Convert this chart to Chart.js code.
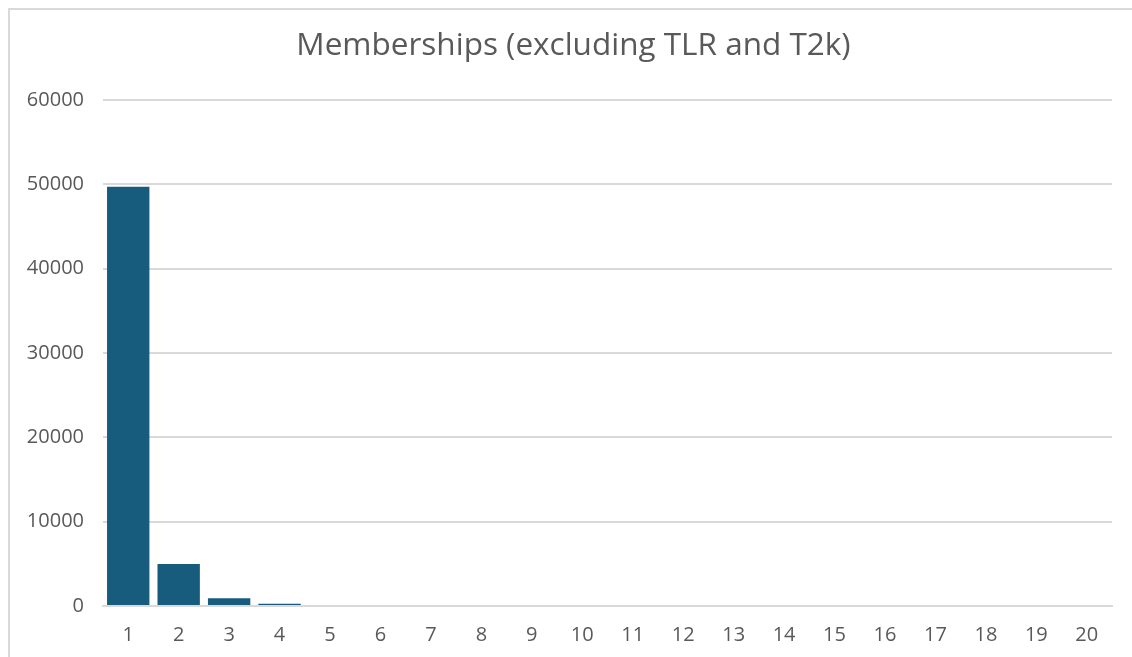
<!DOCTYPE html>
<html lang="en">
<head>
  <meta charset="UTF-8">
  <title>Memberships</title>
  <style>
    html, body {
      margin: 0;
      padding: 0;
      background: #ffffff;
      overflow: hidden;
    }
    .wrap {
      position: relative;
      width: 1132px;
      height: 657px;
    }
    .frame {
      position: absolute;
      left: 8px;
      top: 8px;
      width: 1200px;
      height: 700px;
      border-left: 2px solid #d9d9d9;
      border-top: 2px solid #d9d9d9;
      pointer-events: none;
    }
    canvas {
      position: absolute;
      left: 0;
      top: 0;
    }
  </style>
</head>
<body>
  <div class="wrap">
    <canvas id="chart" width="1132" height="657"></canvas>
    <div class="frame"></div>
  </div>
  <script src="https://cdn.jsdelivr.net/npm/chart.js"></script>
  <script>
    // number of memberships per person
    const categories = ['1', '2', '3', '4', '5', '6', '7', '8', '9', '10',
                        '11', '12', '13', '14', '15', '16', '17', '18', '19', '20'];
    const counts = [49700, 4980, 910, 270, 0, 0, 0, 0, 0, 0,
                    0, 0, 0, 0, 0, 0, 0, 0, 0, 0];
    const yTicks = [0, 10000, 20000, 30000, 40000, 50000, 60000];

    const textColor = '#595959';
    const gridColor = '#d9d9d9';
    const fontFamily = "'Open Sans', 'Noto Sans', sans-serif";

    // the original centres its title a bit right of the canvas middle
    const shiftTitle = {
      id: 'shiftTitle',
      afterLayout(chart) {
        if (chart.titleBlock) chart.titleBlock.left = 35;
      }
    };

    new Chart(document.getElementById('chart'), {
      type: 'bar',
      data: {
        labels: categories,
        datasets: [{
          label: 'Memberships',
          data: counts,
          backgroundColor: '#175b7d',
          barPercentage: 0.84,
          categoryPercentage: 1.0
        }]
      },
      plugins: [shiftTitle],
      options: {
        responsive: false,
        animation: false,
        layout: {
          padding: { left: 0, right: 20, top: 0, bottom: 0 }
        },
        plugins: {
          legend: { display: false },
          tooltip: { enabled: false },
          title: {
            display: true,
            text: 'Memberships (excluding TLR and T2k)',
            color: textColor,
            font: { family: fontFamily, size: 31.5, weight: 'normal' },
            padding: { top: 27, bottom: 35 }
          }
        },
        scales: {
          x: {
            grid: { display: false, drawTicks: false },
            border: { display: true, color: gridColor, width: 2 },
            ticks: {
              color: textColor,
              font: { family: fontFamily, size: 20 },
              padding: 17,
              maxRotation: 0
            },
            afterFit(scale) { scale.height = 51; }
          },
          y: {
            min: 0,
            max: 60000,
            afterBuildTicks(scale) {
              scale.ticks = yTicks.map(v => ({ value: v }));
            },
            grid: { color: gridColor, lineWidth: 2, drawTicks: false },
            border: { display: false },
            ticks: {
              color: textColor,
              font: { family: fontFamily, size: 20 },
              padding: 19,
              callback: v => String(v)
            },
            afterFit(scale) { scale.width = 103; }
          }
        }
      }
    });
  </script>
</body>
</html>
